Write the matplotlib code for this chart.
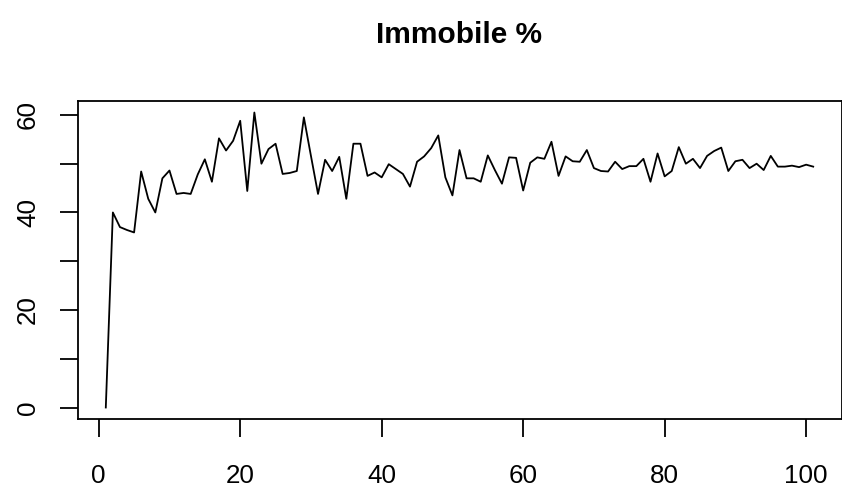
import matplotlib
matplotlib.use("Agg")
import matplotlib.pyplot as plt

plt.rcParams['font.family'] = ['Liberation Sans', 'DejaVu Sans']

title = "Immobile %"
x_ticks = [0, 20, 40, 60, 80, 100]
y_ticks = [0, 10, 20, 30, 40, 50, 60]
y_tick_labels = ["0", "", "20", "", "40", "", "60"]

immobile_pct = [
    0.0, 40.0, 37.0, 36.4, 35.9, 48.4, 42.8, 40.0, 47.0, 48.6,
    43.8, 44.0, 43.8, 47.8, 50.9, 46.3, 55.2, 52.7, 54.7, 58.8,
    44.4, 60.5, 50.0, 53.0, 54.1, 47.9, 48.1, 48.5, 59.5, 51.6,
    43.8, 50.8, 48.5, 51.4, 42.8, 54.1, 54.1, 47.5, 48.2, 47.2,
    49.9, 48.9, 47.9, 45.3, 50.4, 51.5, 53.2, 55.8, 47.2, 43.5,
    52.8, 47.0, 47.0, 46.3, 51.7, 48.7, 45.9, 51.3, 51.2, 44.5,
    50.2, 51.3, 51.0, 54.5, 47.5, 51.5, 50.5, 50.4, 52.8, 49.1,
    48.5, 48.4, 50.4, 48.9, 49.5, 49.5, 51.0, 46.3, 52.1, 47.4,
    48.5, 53.4, 50.0, 51.0, 49.1, 51.6, 52.6, 53.3, 48.5, 50.5,
    50.8, 49.1, 50.0, 48.7, 51.6, 49.4, 49.4, 49.6, 49.3, 49.8,
    49.4,
]
index = list(range(1, len(immobile_pct) + 1))

W, H = 842, 488
fig = plt.figure(figsize=(W / 100, H / 100), dpi=100)
left, right, top, bottom = 77.5, 841.5, 100.7, 419.3
ax = fig.add_axes([left / W, 1 - bottom / H, (right - left) / W, (bottom - top) / H])

ax.plot(index, immobile_pct, color='black', linewidth=1.3)

n = len(immobile_pct)
xr = n - 1
ax.set_xlim(1 - 0.04 * xr, n + 0.04 * xr)
ymin, ymax = min(immobile_pct), max(immobile_pct)
yr = ymax - ymin
ax.set_ylim(ymin - 0.04 * yr, ymax + 0.04 * yr)

ax.set_xticks(x_ticks)
ax.set_xticklabels([str(t) for t in x_ticks])
ax.set_yticks(y_ticks)
ax.set_yticklabels(y_tick_labels, rotation=90, va='center')

for s in ax.spines.values():
    s.set_linewidth(1.3)
    s.set_color('black')

ax.tick_params(axis='both', direction='out', length=13, width=1.3,
               labelsize=18.7, colors='black')
ax.tick_params(axis='x', pad=19)
ax.tick_params(axis='y', pad=14)

fig.text((left + right) / 2 / W, 1 - 35 / H, title, ha='center', va='center',
         fontsize=21.5, fontweight='bold')

fig.savefig("out.png", dpi=100, facecolor='white')
